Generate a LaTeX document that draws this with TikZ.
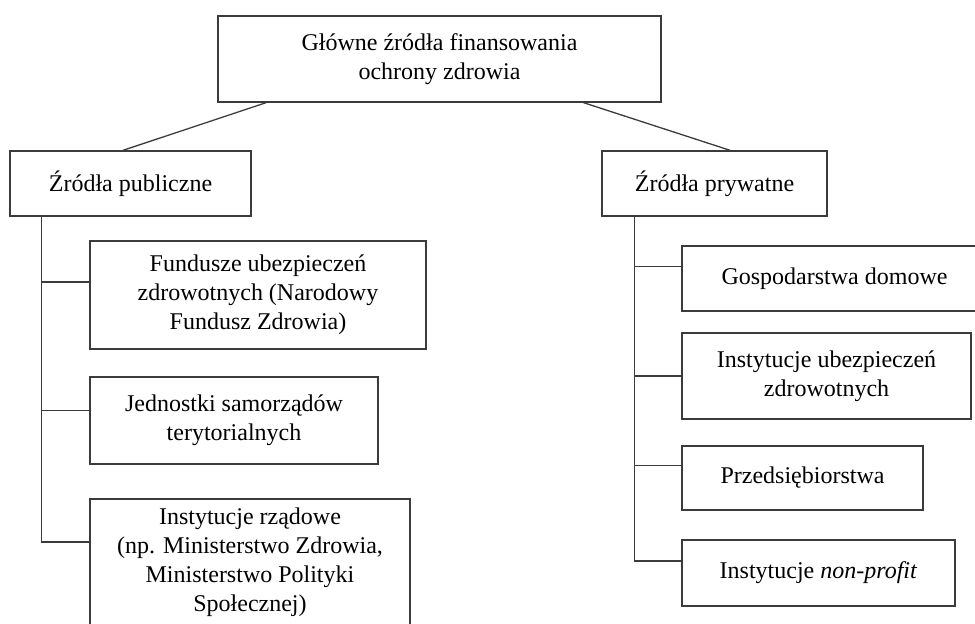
\documentclass[tikz,border=0pt]{standalone}
\usepackage{fontspec}
\setmainfont{Liberation Serif}
\usetikzlibrary{calc}
\newlength{\du}
\setlength{\du}{0.5pt}
\tikzset{
  srcbox/.style={draw=dialinecolor,line width=1.3\du,rectangle,align=center,inner sep=0pt,
    font=\fontsize{12}{14.5}\selectfont},
  srcline/.style={draw=dialinecolor,line width=1.3\du},
}
\begin{document}
\begin{tikzpicture}[every node/.style={scale=1}]
\pgftransformxscale{1.000000}
\pgftransformyscale{-1.000000}
\definecolor{dialinecolor}{rgb}{0.230000, 0.230000, 0.230000}
\pgfsetstrokecolor{dialinecolor}
\clip (0\du,0\du) rectangle (975\du,624\du);
% boxes
\node[srcbox,minimum width=443\du,minimum height=86\du] (glowne) at (439.5\du,59\du){Główne źródła finansowania\\ochrony zdrowia};
\node[srcbox,minimum width=241\du,minimum height=65\du] (publ) at (130.5\du,183.5\du){Źródła publiczne};
\node[srcbox,minimum width=225\du,minimum height=65\du] (pryw) at (714.5\du,183.5\du){Źródła prywatne};
% publiczne
\node[srcbox,minimum width=336\du,minimum height=108\du] (nfz) at (258\du,295\du){Fundusze ubezpieczeń\\zdrowotnych (Narodowy\\Fundusz Zdrowia)};
\node[srcbox,minimum width=288\du,minimum height=87\du] (jst) at (234\du,420.5\du){Jednostki samorządów\\terytorialnych};
\node[srcbox,minimum width=320\du,minimum height=127\du] (rzad) at (250\du,562.5\du){Instytucje rządowe\\(np. Ministerstwo Zdrowia,\\Ministerstwo Polityki\\Społecznej)};
% prywatne
\node[srcbox,minimum width=305\du,minimum height=65\du] (gosp) at (834.5\du,278.5\du){Gospodarstwa domowe};
\node[srcbox,minimum width=289\du,minimum height=86\du] (ubez) at (826.5\du,376\du){Instytucje ubezpieczeń\\zdrowotnych};
\node[srcbox,minimum width=241\du,minimum height=64\du] (przed) at (802.5\du,478\du){Przedsiębiorstwa};
\node[srcbox,minimum width=273\du,minimum height=66\du] (nonpr) at (818.5\du,573\du){Instytucje \textit{non-profit}};
% connectors
\draw[srcline] ($(glowne.south west)!0.11!(glowne.south east)$)--($(publ.north west)!0.469!(publ.north east)$);
\draw[srcline] ($(glowne.south west)!0.824!(glowne.south east)$)--($(pryw.north west)!0.569!(pryw.north east)$);
\coordinate (publT) at ($(publ.south west)!0.133!(publ.south east)$);
\coordinate (nfzW) at ($(nfz.north west)!0.38!(nfz.south west)$);
\coordinate (jstW) at ($(jst.north west)!0.39!(jst.south west)$);
\coordinate (rzadW) at ($(rzad.north west)!0.34!(rzad.south west)$);
\draw[srcline] (publT)|-(rzadW);
\draw[srcline] (publT|-nfzW)--(nfzW);
\draw[srcline] (publT|-jstW)--(jstW);
\coordinate (prywT) at ($(pryw.south west)!0.147!(pryw.south east)$);
\coordinate (gospW) at ($(gosp.north west)!0.32!(gosp.south west)$);
\coordinate (ubezW) at ($(ubez.north west)!0.5!(ubez.south west)$);
\coordinate (przedW) at ($(przed.north west)!0.31!(przed.south west)$);
\coordinate (nonprW) at ($(nonpr.north west)!0.32!(nonpr.south west)$);
\draw[srcline] (prywT)|-(nonprW);
\draw[srcline] (prywT|-gospW)--(gospW);
\draw[srcline] (prywT|-ubezW)--(ubezW);
\draw[srcline] (prywT|-przedW)--(przedW);
\end{tikzpicture}
\end{document}
